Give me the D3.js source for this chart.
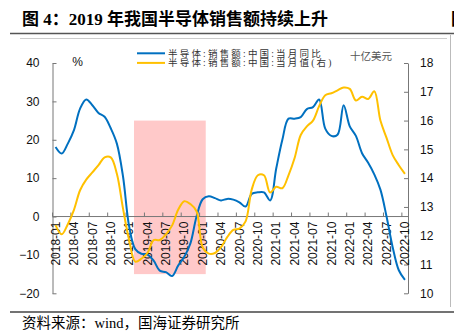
<!DOCTYPE html>
<html lang="zh">
<head>
<meta charset="UTF-8">
<title>2019年我国半导体销售额持续上升</title>
<script src="https://d3js.org/d3.v7.min.js"></script>
<style>
    body { margin: 0; background: #fff; }
    svg { display: block; }
    .tick-label { font-family: "Liberation Sans", Arial, sans-serif; font-size: 12px; fill: #111; }
    .cjk { font-family: "Liberation Serif", "Noto Sans CJK SC", serif; }
</style>
</head>
<body>
<div id="chart"></div>
<script>
// months on the category axis
const months = [
    "2018-01","2018-02","2018-03","2018-04","2018-05","2018-06","2018-07","2018-08","2018-09","2018-10","2018-11","2018-12",
    "2019-01","2019-02","2019-03","2019-04","2019-05","2019-06","2019-07","2019-08","2019-09","2019-10","2019-11","2019-12",
    "2020-01","2020-02","2020-03","2020-04","2020-05","2020-06","2020-07","2020-08","2020-09","2020-10","2020-11","2020-12",
    "2021-01","2021-02","2021-03","2021-04","2021-05","2021-06","2021-07","2021-08","2021-09","2021-10","2021-11","2021-12",
    "2022-01","2022-02","2022-03","2022-04","2022-05","2022-06","2022-07","2022-08","2022-09","2022-10"
];

// 半导体:销售额:中国:当月同比 (%)
const yoyGrowth = [
    18.1, 16.4, 19.0, 22.5, 28.1, 30.5, 29.0, 27.0, 26.0, 23.0, 19.0, 10.5,
    -2.5, -8.5, -9.7, -9.9, -11.5, -14.1, -14.5, -15.5, -12.8, -10.5, -7.0, 0.0,
    4.5, 5.3, 4.8, 4.2, 4.6, 4.4, 3.7, 2.6, 5.9, 6.3, 6.3, 4.2,
    12.5, 20.0, 25.5, 25.5, 25.9, 28.0, 28.5, 30.5, 22.9, 21.0, 21.3, 29.0,
    23.5, 21.0, 16.5, 14.0, 11.0, 7.0, 0.0, -8.0, -14.0, -16.5
];

// 半导体:销售额:中国:当月值 (十亿美元, right axis)
const monthlySales = [
    12.37, 12.05, 12.4, 12.9, 13.58, 13.95, 14.2, 14.45, 14.72, 14.72, 14.15, 12.95,
    11.85, 11.1, 11.2, 11.4, 11.85, 11.85, 12.05, 12.35, 12.9, 13.2, 13.1, 12.85,
    11.6, 11.38, 11.4, 11.6, 11.95, 12.2, 12.25, 12.5, 13.6, 14.1, 14.1, 13.5,
    13.7, 13.65, 14.1, 14.7, 15.5, 15.8, 16.0, 16.5, 16.88, 16.95, 17.05, 17.15,
    17.1, 16.7, 16.83, 16.75, 17.02, 16.0, 15.4, 14.8, 14.45, 14.15
];

const leftTicks = [-20, -10, 0, 10, 20, 30, 40];
const rightTicks = [10, 11, 12, 13, 14, 15, 16, 17, 18];
const quarterMonths = months.filter((m, i) => i % 3 === 0);

// highlighted period
const shadeFrom = "2019-02", shadeTo = "2020-01";
const shadeTop = 25, shadeBottom = -15;

const seriesNames = ["半导体:销售额:中国:当月同比", "半导体:销售额:中国:当月值(右)"];
const colors = ["#0070c0", "#ffc000"];

const W = 454, H = 334;
const svg = d3.select("#chart").append("svg")
    .attr("width", W).attr("height", H);

// header
svg.append("text")
    .attr("class", "cjk")
    .attr("x", 22).attr("y", 25)
    .attr("font-size", 17).attr("font-weight", "bold")
    .text("图 4：2019 年我国半导体销售额持续上升");
svg.append("text")
    .attr("class", "cjk")
    .attr("x", 451).attr("y", 25)
    .attr("font-size", 17).attr("font-weight", "bold")
    .text("图");
svg.append("line").attr("x1", 10).attr("x2", W).attr("y1", 33.5).attr("y2", 33.5)
    .attr("stroke", "#555").attr("stroke-width", 1.5);
svg.append("line").attr("x1", 20).attr("x2", 447).attr("y1", 38.5).attr("y2", 38.5)
    .attr("stroke", "#ccc").attr("stroke-width", 1);
svg.append("line").attr("x1", 450.5).attr("x2", 450.5).attr("y1", 35).attr("y2", 307)
    .attr("stroke", "#bbb").attr("stroke-width", 1);

// footer
svg.append("line").attr("x1", 10).attr("x2", W).attr("y1", 312).attr("y2", 312)
    .attr("stroke", "#444").attr("stroke-width", 1.5);
svg.append("text")
    .attr("class", "cjk")
    .attr("x", 22).attr("y", 327.5)
    .attr("font-size", 14.5)
    .text("资料来源：wind，国海证券研究所");

// scales
const x = d3.scaleBand().domain(months).range([52.5, 408]);
const yL = d3.scaleLinear().domain([-20, 40]).range([293.3, 63]);
const yR = d3.scaleLinear().domain([10, 18]).range([293.3, 63]);
const bw = x.bandwidth();
const cx = m => x(m) + bw / 2;

// shaded box
svg.append("rect")
    .attr("x", x(shadeFrom) + bw * 0.3)
    .attr("width", x(shadeTo) + bw - x(shadeFrom) - bw * 0.3)
    .attr("y", yL(shadeTop))
    .attr("height", yL(shadeBottom) - yL(shadeTop))
    .attr("fill", "#ffc9c9");

// left axis
const gL = svg.append("g")
    .attr("transform", "translate(52.5,0)")
    .call(d3.axisLeft(yL).tickValues(leftTicks).tickSizeInner(-4).tickSizeOuter(0).tickPadding(13));
// right axis
const gR = svg.append("g")
    .attr("transform", "translate(408,0)")
    .call(d3.axisRight(yR).tickValues(rightTicks).tickSizeInner(-4).tickSizeOuter(0).tickPadding(12));
[gL, gR].forEach(g => {
    g.select(".domain").attr("stroke", "#777");
    g.selectAll(".tick line").attr("stroke", "#777");
    g.selectAll(".tick text").attr("class", "tick-label").attr("font-size", null).attr("font-family", null);
});

// category axis on the zero line
const y0 = yL(0);
svg.append("line").attr("x1", 52.5).attr("x2", 408).attr("y1", y0).attr("y2", y0)
    .attr("stroke", "#777");
svg.append("g").selectAll("line")
    .data(quarterMonths)
    .join("line")
    .attr("x1", d => x(d)).attr("x2", d => x(d))
    .attr("y1", y0).attr("y2", y0 - 4)
    .attr("stroke", "#777");
svg.append("g").selectAll("text")
    .data(quarterMonths)
    .join("text")
    .attr("class", "tick-label")
    .attr("transform", d => `translate(${cx(d)},${y0 + 5}) rotate(-90)`)
    .attr("text-anchor", "end")
    .attr("dy", "0.35em")
    .text(d => d);

// unit labels
svg.append("text").attr("class", "tick-label")
    .attr("x", 77.5).attr("y", 66).attr("text-anchor", "middle")
    .text("%");
svg.append("text").attr("class", "cjk")
    .attr("x", 350).attr("y", 59.5)
    .attr("font-size", 10.5).attr("fill", "#555")
    .text("十亿美元");

// lines
const lineL = d3.line().x((d, i) => cx(months[i])).y(d => yL(d)).curve(d3.curveCatmullRom);
const lineR = d3.line().x((d, i) => cx(months[i])).y(d => yR(d)).curve(d3.curveCatmullRom);

svg.append("path").datum(yoyGrowth)
    .attr("d", lineL).attr("fill", "none")
    .attr("stroke", colors[0]).attr("stroke-width", 2);
svg.append("path").datum(monthlySales)
    .attr("d", lineR).attr("fill", "none")
    .attr("stroke", colors[1]).attr("stroke-width", 2);

// legend, two tight rows
const legend = svg.append("g").selectAll("g")
    .data(seriesNames)
    .join("g")
    .attr("transform", (d, i) => `translate(137,${53.3 + i * 9.6})`);
legend.append("line")
    .attr("x1", 0).attr("x2", 28)
    .attr("stroke", (d, i) => colors[i]).attr("stroke-width", 2);
legend.append("text")
    .attr("class", "cjk")
    .attr("x", 31).attr("dy", "0.36em")
    .attr("font-size", 9.5).attr("letter-spacing", 2.2).attr("fill", "#333")
    .text(d => d);
</script>
</body>
</html>
